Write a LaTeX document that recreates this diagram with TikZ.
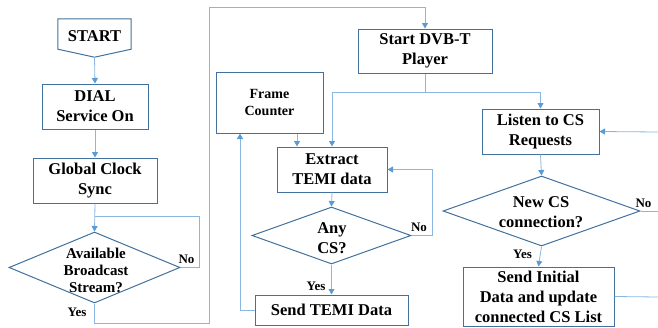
\documentclass[tikz,border=0pt]{standalone}
\usepackage{fontspec}
\setmainfont{Liberation Serif}
\usetikzlibrary{shapes.geometric,arrows.meta}
\definecolor{boxline}{HTML}{41719C}
\definecolor{flow}{HTML}{8AB6E2}
\definecolor{tipblue}{HTML}{5B9BD5}

\begin{document}
\begin{tikzpicture}[x=1pt,y=-1pt,
  box/.style={draw=boxline, line width=1pt, rectangle, inner sep=0pt, align=center,
    font=\bfseries\fontsize{16.5}{20}\selectfont},
  decision/.style={draw=boxline, line width=1pt, diamond, inner sep=0pt},
  dtext/.style={align=center, inner sep=0pt, font=\bfseries\fontsize{15}{17}\selectfont},
  flowline/.style={draw=flow, line width=0.8pt},
  arr/.style={flowline, -{Triangle[length=5.5pt,width=6pt,color=tipblue]}},
  lbl/.style={inner sep=0pt, font=\bfseries\fontsize{13}{15}\selectfont}
]
\useasboundingbox (0,0) rectangle (658,327);

% left column
\node[inner sep=0pt, minimum width=73pt, minimum height=38pt,
  font=\bfseries\fontsize{16.5}{20}\selectfont] (start) at (94.5,38) {\raisebox{3pt}{START}};
\draw[draw=boxline, line width=1pt] (start.north west) -- (start.north east)
  -- ([yshift=8pt]start.south east) -- (start.south) -- ([yshift=8pt]start.south west) -- cycle;
\node[box, minimum width=106pt, minimum height=45pt] (dial) at (95,106.5) {DIAL\\Service On};
\node[box, minimum width=124pt, minimum height=45pt] (clock) at (95,180.5) {Global Clock\\Sync};
\node[decision, minimum width=171pt, minimum height=71pt] (avail) at (94.5,267.5) {};
\node[dtext] (availtext) at (96,270) {Available\\Broadcast\\Stream?};

% middle column
\node[box, minimum width=134pt, minimum height=44pt] (dvb) at (425,51) {Start DVB-T\\Player};
\node[box, minimum width=107pt, minimum height=61pt,
  font=\bfseries\fontsize{14}{17}\selectfont] (frame) at (269.5,102.5) {Frame\\Counter};
\node[box, minimum width=110pt, minimum height=45pt] (extract) at (332,169.5) {Extract\\TEMI data};
\node[decision, minimum width=159pt, minimum height=57pt] (anycs) at (331.5,235.5) {};
\node[dtext, font=\bfseries\fontsize{16.5}{20}\selectfont] (anycstext) at (332,238) {Any\\CS?};
\node[box, minimum width=153pt, minimum height=30pt] (sendtemi) at (331.5,310) {Send TEMI Data};

% right column
\node[box, minimum width=117pt, minimum height=45pt] (listen) at (540.5,131.5) {Listen to CS\\Requests};
\node[decision, minimum width=197pt, minimum height=70pt] (newcs) at (541.5,211) {};
\node[dtext, font=\bfseries\fontsize{16.5}{20}\selectfont] (newcstext) at (541,212.5) {New CS\\connection?};
\node[box, minimum width=151pt, minimum height=59pt] (sendinit) at (538.5,296.5) {Send Initial\\Data and update\\connected CS List};

% helper points
\coordinate (joinA) at (95,216);
\coordinate (split) at (425,92);
\coordinate (fx) at (297,0);
\coordinate (gx) at (240,0);
\coordinate (edgeA) at (658,132);
\coordinate (edgeB) at (658,211);
\coordinate (edgeC) at (658,297);

% left connectors
\draw[arr] (start.south) -- (dial.north);
\draw[arr] (dial.south) -- (clock.north);
\draw[arr] (clock.south) -- (avail.north);
\draw[flowline] (avail.east) -- ++(19,0) |- (joinA);
\node[lbl] (noA) at (186.5,259.5) {No};
\draw[arr] (avail.south) -- ++(0,20) -| (209,7) -| (dvb.north);
\node[lbl] (yesA) at (77,312.5) {Yes};

% middle connectors
\draw[flowline] (dvb.south) -- (split);
\draw[arr] (split) -| (extract.north);
\draw[arr] (split) -| (listen.north);
\draw[arr] (frame.south -| fx) -- (extract.north -| fx);
\draw[arr] (extract.south) -- (anycs.north);
\draw[arr] (anycs.east) -- ++(21,0) |- (extract.east);
\node[lbl] (noB) at (419,227.5) {No};
\draw[arr] (anycs.south) -- (sendtemi.north);
\node[lbl] (yesB) at (316,286) {Yes};
\draw[arr] (sendtemi.west) -| (frame.south -| gx);

% right connectors
\draw[arr] (edgeA) -- (listen.east);
\draw[arr] (listen.south) -- (newcs.north);
\draw[flowline] (newcs.east) -- (edgeB);
\node[lbl] (noC) at (643.5,203) {No};
\draw[arr] (newcs.south) -- (sendinit.north);
\node[lbl] (yesC) at (522.5,254.5) {Yes};
\draw[flowline] (sendinit.east) -- (edgeC);
\end{tikzpicture}
\end{document}
